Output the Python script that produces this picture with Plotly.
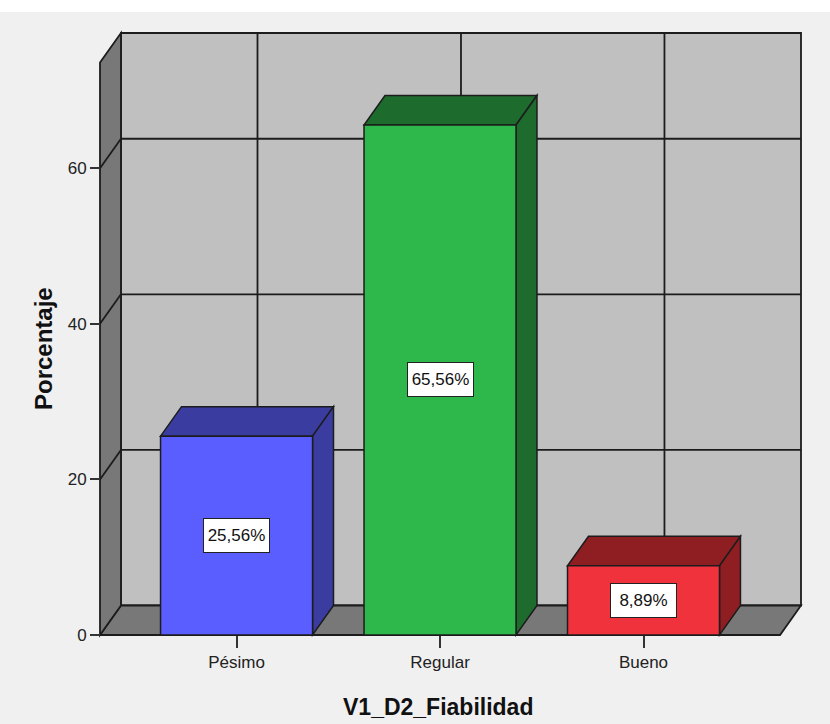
import plotly.graph_objects as go

# ---- data -------------------------------------------------------------
categories = ["Pésimo", "Regular", "Bueno"]
percentages = [25.56, 65.56, 8.89]
y_tick_values = [0, 20, 40, 60]
x_axis_title = "V1_D2_Fiabilidad"
y_axis_title = "Porcentaje"

# ---- style ------------------------------------------------------------
front_colors = ["#5a5eff", "#2eb84b", "#f0323c"]
shade_colors = ["#3a3d9f", "#1e6b2e", "#8f1e22"]
WALL = "#c0c0c0"
SIDE = "#787878"
EDGE = "#1c1c1c"
BG = "#f0f0f0"
FONT = "Liberation Sans, Arial, sans-serif"

FIG_W, FIG_H = 830, 724
X_LO, X_HI = 0.329, 3.774      # x extent of the box (back wall reaches X_HI)
Y_TOP = 77.38                  # top of the back wall
DX, DY = 0.103, 3.79           # depth offset of the pseudo-3D box
BAR_W = 0.747
PX_PER_X, PX_PER_Y = 203.5, 7.78
PAD = 4                        # pixels of slack so edge lines are not clipped

pad_x = PAD / PX_PER_X
pad_y = PAD / PX_PER_Y
plot_w = (X_HI - X_LO) * PX_PER_X + 2 * PAD
plot_h = Y_TOP * PX_PER_Y + 2 * PAD
m_l = 100 - PAD
m_b = FIG_H - 635 - PAD
m_r = FIG_W - m_l - plot_w
m_t = FIG_H - m_b - plot_h


def paper_x(px):
    return (px - m_l) / plot_w


def paper_y(py):
    return (FIG_H - m_b - py) / plot_h


shapes = []


def poly(points, fill, width=1.8):
    path = "M " + " L ".join(f"{x},{y}" for x, y in points) + " Z"
    shapes.append(dict(type="path", xref="x", yref="y", path=path,
                       fillcolor=fill, line=dict(color=EDGE, width=width),
                       layer="below"))


def seg(x0, y0, x1, y1, width=1.8):
    shapes.append(dict(type="line", xref="x", yref="y", x0=x0, y0=y0,
                       x1=x1, y1=y1, line=dict(color=EDGE, width=width),
                       layer="below"))


# white strip along the top of the canvas
shapes.append(dict(type="rect", xref="paper", yref="paper",
                   x0=-0.5, x1=1.5, y0=paper_y(12), y1=paper_y(-5),
                   fillcolor="white", line=dict(width=0), layer="below"))

# back wall, floor and left side wall
poly([(X_LO + DX, DY), (X_HI, DY), (X_HI, Y_TOP), (X_LO + DX, Y_TOP)], WALL)
poly([(X_LO, 0), (X_HI - DX, 0), (X_HI, DY), (X_LO + DX, DY)], SIDE)
poly([(X_LO, 0), (X_LO + DX, DY), (X_LO + DX, Y_TOP), (X_LO, Y_TOP - DY)], SIDE)

# grid lines on the back and side walls
for v in y_tick_values[1:]:
    seg(X_LO + DX, v + DY, X_HI, v + DY)
    seg(X_LO, v, X_LO + DX, v + DY)
for i in range(1, len(categories) + 1):
    seg(i + DX, DY, i + DX, Y_TOP)

# top and right faces of each bar
half = BAR_W / 2
for i, (v, c) in enumerate(zip(percentages, shade_colors), start=1):
    poly([(i - half, v), (i + half, v), (i + half + DX, v + DY),
          (i - half + DX, v + DY)], c, 1.5)
    poly([(i + half, 0), (i + half, v), (i + half + DX, v + DY),
          (i + half + DX, DY)], c, 1.5)

fig = go.Figure(go.Bar(
    x=list(range(1, len(categories) + 1)),
    y=percentages,
    width=BAR_W,
    marker=dict(color=front_colors, line=dict(color=EDGE, width=1.5)),
    hoverinfo="skip",
    cliponaxis=False,
))

annotations = []
for i, v in enumerate(percentages, start=1):
    annotations.append(dict(
        x=i, y=v / 2, xref="x", yref="y",
        text=f"{v:.2f}%".replace(".", ","),
        showarrow=False, font=dict(family=FONT, size=17, color="#111"),
        bgcolor="white", bordercolor="#222", borderwidth=1, borderpad=1,
        width=63, height=31,
    ))

# axis titles
annotations.append(dict(
    x=paper_x(438), y=paper_y(707), xref="paper", yref="paper",
    xanchor="center", yanchor="middle", showarrow=False,
    text=f"<b>{x_axis_title}</b>",
    font=dict(size=23, family=FONT, color="#111"),
))
annotations.append(dict(
    x=paper_x(43), y=paper_y(349), xref="paper", yref="paper",
    xanchor="center", yanchor="middle", showarrow=False, textangle=-90,
    text=f"<b>{y_axis_title}</b>",
    font=dict(size=24, family=FONT, color="#111"),
))

fig.update_layout(
    width=FIG_W, height=FIG_H,
    margin=dict(l=m_l, r=m_r, t=m_t, b=m_b, pad=0, autoexpand=False),
    paper_bgcolor=BG, plot_bgcolor=BG,
    showlegend=False,
    shapes=shapes,
    annotations=annotations,
    font=dict(family=FONT, color="#222"),
    xaxis=dict(
        range=[X_LO - pad_x, X_HI + pad_x],
        anchor="free", position=PAD / plot_h, automargin=False,
        tickvals=list(range(1, len(categories) + 1)), ticktext=categories,
        ticks="outside", ticklen=12, tickwidth=2, tickcolor="#333",
        showgrid=False, zeroline=False, showline=False,
        tickfont=dict(size=17, family=FONT, color="#222"),
        fixedrange=True,
    ),
    yaxis=dict(
        range=[-pad_y, Y_TOP + pad_y],
        anchor="free", position=PAD / plot_w, automargin=False,
        tickvals=y_tick_values,
        ticks="outside", ticklen=10, tickwidth=2, tickcolor="#333",
        showgrid=False, zeroline=False, showline=False,
        tickfont=dict(size=17, family=FONT, color="#222"),
        fixedrange=True,
    ),
)

fig.write_html("out.html")
